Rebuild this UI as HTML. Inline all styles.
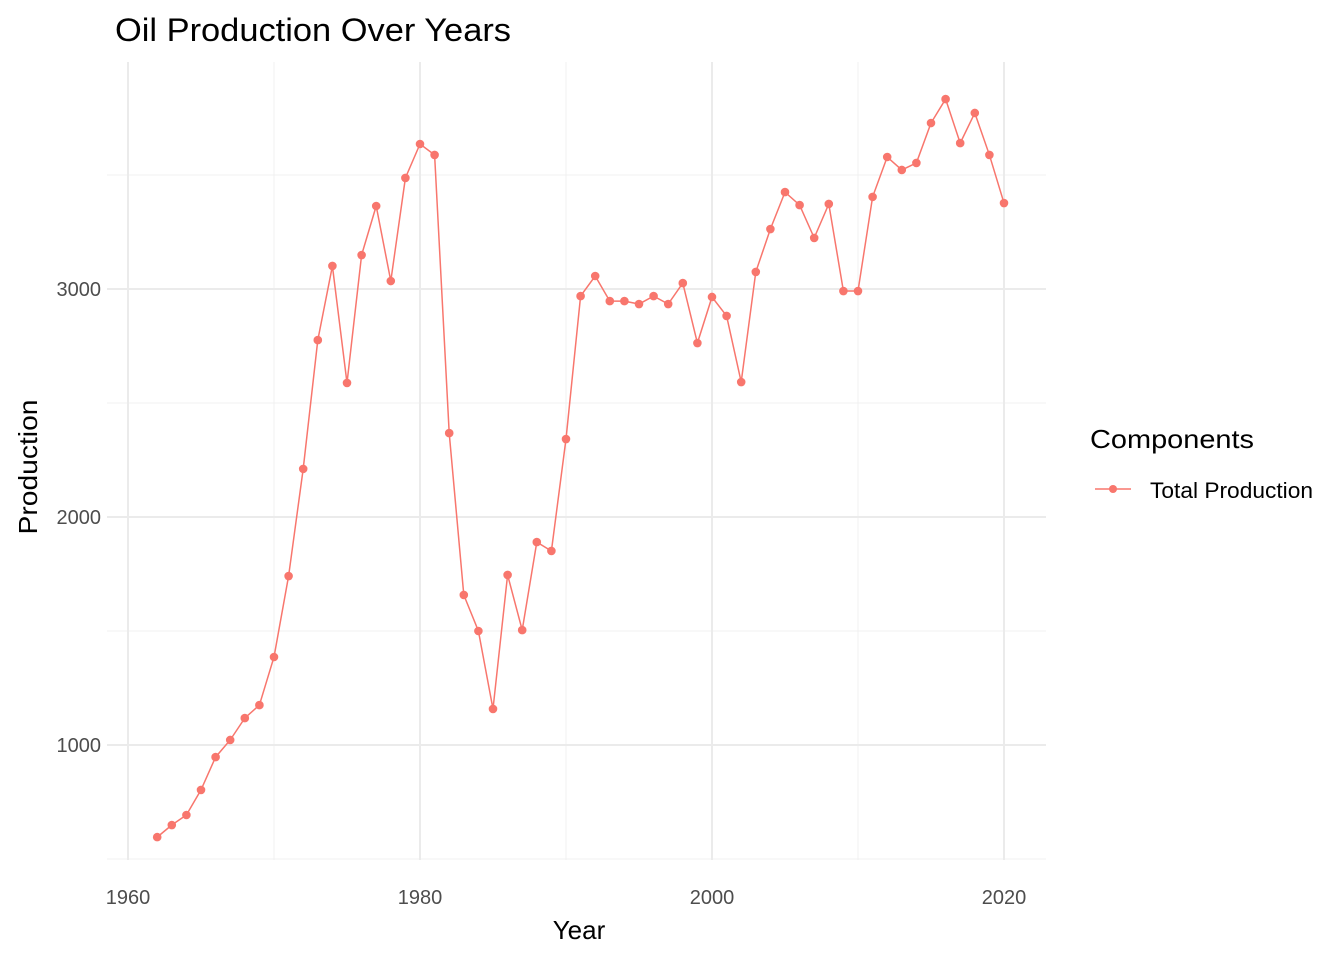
<!DOCTYPE html>
<html><head><meta charset="utf-8"><style>
body{margin:0;background:#fff;font-family:"Liberation Sans",sans-serif}
svg text{font-family:"Liberation Sans",sans-serif}
</style></head><body>
<svg id="chart" width="1344" height="960" xmlns="http://www.w3.org/2000/svg">
<g id="grid"></g>
<g id="axes"></g>
<g id="series"></g>
<text x="115" y="41" font-size="32" fill="#000" textLength="396" lengthAdjust="spacingAndGlyphs">Oil Production Over Years</text>
<text x="579" y="939" font-size="26" text-anchor="middle">Year</text>
<text transform="translate(37,467) rotate(-90)" font-size="26" text-anchor="middle" textLength="135" lengthAdjust="spacingAndGlyphs">Production</text>
<g>
<text x="1090" y="448" font-size="26" textLength="164" lengthAdjust="spacingAndGlyphs">Components</text>
<g>
<line x1="1095" y1="489" x2="1131" y2="489" stroke="#F8766D" stroke-width="1.5"/>
<circle cx="1113" cy="489" r="4" fill="#F8766D"/>
<text x="1150" y="498" font-size="22" textLength="163" lengthAdjust="spacingAndGlyphs">Total Production</text>
</g></g>
</svg>
<script>
const years=[1962,1963,1964,1965,1966,1967,1968,1969,1970,1971,1972,1973,1974,1975,1976,1977,1978,1979,1980,1981,1982,1983,1984,1985,1986,1987,1988,1989,1990,1991,1992,1993,1994,1995,1996,1997,1998,1999,2000,2001,2002,2003,2004,2005,2006,2007,2008,2009,2010,2011,2012,2013,2014,2015,2016,2017,2018,2019,2020];
const production=[596,649,693,803,947,1022,1118,1175,1386,1741,2211,2776,3101,2588,3149,3364,3035,3487,3636,3588,2368,1658,1500,1158,1746,1504,1890,1851,2342,2969,3057,2947,2947,2934,2969,2934,3026,2763,2965,2882,2592,3075,3263,3425,3368,3224,3373,2991,2991,3404,3579,3522,3553,3728,3833,3640,3772,3588,3377];
const xTicks=[1960,1980,2000,2020];
const xMinor=[1970,1990,2010];
const yTicks=[1000,2000,3000];
const yMinor=[500,1500,2500,3500];
const NS="http://www.w3.org/2000/svg";
const X=v=>128+(v-1960)*14.6;
const Y=v=>745-(v-1000)*0.228;
const PL=107,PR=1046,PT=62,PB=860;
function mk(tag,attrs,parent){const e=document.createElementNS(NS,tag);for(const k in attrs)e.setAttribute(k,attrs[k]);parent.appendChild(e);return e;}
const grid=document.getElementById('grid'),axes=document.getElementById('axes'),series=document.getElementById('series');
yMinor.forEach(v=>{const l=mk('line',{x1:PL,x2:PR,y1:Y(v),y2:Y(v),stroke:'#f0f0f0','stroke-width':1},grid);

});
xMinor.forEach(v=>{const l=mk('line',{x1:X(v),x2:X(v),y1:PT,y2:PB,stroke:'#f0f0f0','stroke-width':1},grid);

});
yTicks.forEach(v=>{const l=mk('line',{x1:PL,x2:PR,y1:Y(v),y2:Y(v),stroke:'#ebebeb','stroke-width':2},grid);


const t=mk('text',{x:101,y:Y(v)+7,'font-size':20,fill:'#4d4d4d','text-anchor':'end'},axes);t.textContent=v;

});
xTicks.forEach(v=>{const l=mk('line',{x1:X(v),x2:X(v),y1:PT,y2:PB,stroke:'#ebebeb','stroke-width':2},grid);


const t=mk('text',{x:X(v),y:904,'font-size':20,fill:'#4d4d4d','text-anchor':'middle'},axes);t.textContent=v;

});
const pts=years.map((y,i)=>X(y)+','+Y(production[i])).join(' ');
const pl=mk('polyline',{points:pts,fill:'none',stroke:'#F8766D','stroke-width':1.5},series);


years.forEach((y,i)=>{const c=mk('circle',{cx:X(y),cy:Y(production[i]),r:4.3,fill:'#F8766D'},series);

});
</script>
</body></html>
